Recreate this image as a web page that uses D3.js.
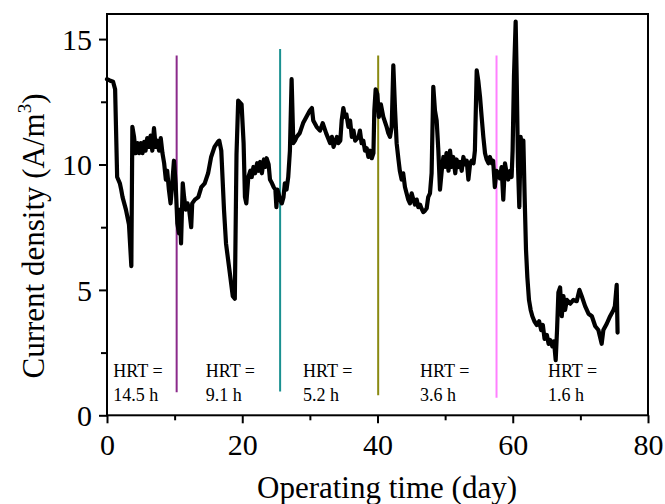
<!DOCTYPE html>
<html>
<head>
<meta charset="utf-8">
<script src="https://cdn.jsdelivr.net/npm/d3@7"></script>
<style>
  html, body { margin: 0; padding: 0; background: #fff; }
  svg { display: block; }
  text { font-family: "Liberation Serif", "Times New Roman", serif; fill: #000; }
</style>
</head>
<body>
<svg id="chart" width="665" height="504"></svg>
<script>
// ---- Data ----
const days = [0,0.4,0.9,1.2,1.5,1.9,2.1,2.3,2.8,3.25,3.6,3.75,4.0,4.25,4.5,4.75,5.0,5.25,5.5,5.7,5.95,6.2,6.45,6.7,6.95,7.2,7.45,7.7,7.95,8.2,8.45,8.7,8.9,9.15,9.4,9.65,9.9,10.15,10.4,10.65,10.8,10.95,11.2,11.4,11.65,11.9,12.15,12.45,12.6,13.0,13.5,13.95,14.45,14.95,15.4,15.9,16.4,16.6,16.9,17.3,17.6,18.1,18.6,18.9,19.15,19.4,19.9,20.2,20.4,20.6,20.9,21.2,21.4,21.65,21.9,22.2,22.4,22.65,22.9,23.2,23.4,23.6,23.9,24.1,24.4,24.65,24.9,25.05,25.2,25.6,25.85,26.1,26.3,26.55,26.8,27.05,27.3,27.55,27.8,28.05,28.5,29.0,29.5,30.0,30.3,30.5,31.0,31.5,31.9,32.4,33.0,33.25,33.5,34.0,34.2,34.5,34.7,34.95,35.2,35.4,35.7,35.95,36.2,36.45,36.7,37.2,37.4,37.65,37.9,38.15,38.4,38.65,38.9,39.15,39.4,39.53,39.73,39.98,40.2,40.5,40.86,41.35,41.6,41.85,42.1,42.34,42.6,42.83,43.1,43.3,43.57,43.8,44.06,44.3,44.55,44.8,45.05,45.3,45.54,45.8,46.03,46.3,46.5,46.77,47.0,47.27,47.5,47.76,48.0,48.25,48.5,48.75,49.0,49.24,49.5,49.74,49.99,50.2,50.5,50.73,50.97,51.2,51.5,51.7,51.96,52.2,52.45,52.7,52.95,53.2,53.44,53.7,53.94,54.2,54.4,54.67,54.9,55.16,55.4,55.65,55.9,56.14,56.4,56.63,56.9,57.1,57.35,57.6,57.86,58.1,58.35,58.6,58.85,59.1,59.33,59.6,59.83,59.98,60.18,60.43,60.58,60.78,60.97,61.17,61.4,61.57,61.76,61.96,62.16,62.4,62.65,62.9,63.2,63.56,63.9,64.2,64.45,64.7,65.05,65.3,65.55,65.85,66.1,66.35,66.55,66.75,67.0,67.25,67.5,67.74,68.0,68.5,68.97,69.46,69.86,70.2,70.7,71.2,71.7,72.2,72.66,73.15,73.4,73.9,74.4,74.9,75.1,75.37,75.5];
const density = [13.4,13.35,13.3,13.0,9.5,9.25,9.0,8.7,8.2,7.6,5.95,11.5,11.1,10.45,10.85,10.45,10.85,10.45,10.9,10.55,11.05,10.7,11.15,10.55,11.45,10.7,10.95,10.55,11.05,10.45,10.05,9.4,9.75,9.0,8.45,9.25,10.15,9.25,7.65,7.25,8.2,6.85,9.25,8.7,8.2,8.45,8.2,7.5,8.45,8.6,8.7,9.1,9.25,9.65,10.3,10.7,10.9,10.95,10.55,8.2,6.85,5.8,4.75,4.65,10.4,12.55,12.4,10.85,8.7,8.45,9.5,9.75,9.5,9.9,9.65,10.05,9.75,10.1,9.65,10.2,9.9,10.25,10.0,9.4,9.25,9.1,9.0,8.3,9.0,8.6,8.45,8.7,9.25,9.0,9.5,10.55,13.4,10.85,10.95,11.1,11.25,11.65,11.9,12.15,12.25,11.75,11.5,11.35,11.65,11.25,10.85,11.1,10.7,11.1,10.85,10.95,11.75,12.25,11.9,12.0,11.5,11.75,11.1,11.35,10.95,11.1,11.35,10.85,10.95,10.55,10.65,10.3,10.55,10.25,10.45,12.15,13.0,12.8,11.9,12.4,11.9,11.5,11.25,11.1,11.5,13.95,12.15,10.85,10.2,9.75,9.4,9.65,9.1,8.85,8.6,8.45,8.85,8.6,8.4,8.6,8.3,8.4,8.25,8.1,8.15,8.25,8.7,8.85,9.65,13.1,12.15,11.75,10.55,9.0,9.75,10.3,9.9,10.45,9.75,10.55,9.9,10.3,9.65,10.2,9.9,10.1,9.75,10.3,10.0,10.15,9.4,10.05,10.15,10.05,10.55,13.75,13.35,12.7,11.9,11.1,10.45,10.2,10.05,10.3,10.05,10.15,9.1,9.75,9.65,9.45,9.9,8.6,10.05,9.65,9.4,9.75,9.5,10.55,13.5,15.7,13.5,9.9,8.3,11.1,10.45,10.95,8.7,6.6,5.5,4.6,4.2,3.95,3.75,3.6,3.75,3.4,3.6,3.05,3.2,2.85,3.0,2.75,2.95,2.2,3.4,4.9,5.1,3.95,4.75,4.2,4.6,4.45,4.6,4.55,5.0,4.75,4.35,4.05,3.95,3.55,3.4,2.85,3.4,3.65,3.95,4.2,4.35,5.2,3.3];

const xTicks = [0, 20, 40, 60, 80];
const xMinorTicks = [10, 30, 50, 70];
const yTicks = [0, 5, 10, 15];
const yMinorTicks = [2.5, 7.5, 12.5];

const hrtDays = [10.3, 25.6, 40.1, 57.6];
const hrtTop = [14.35, 14.6, 14.35, 14.35];
const hrtBottom = [0.92, 0.95, 0.8, 0.7];
const hrtColors = ["#8b2a8b", "#1a9090", "#8a8a12", "#ff80ff"];

const labelDays = [0.93, 14.6, 29.0, 46.3, 65.2];
const labelLine1 = ["HRT =", "HRT =", "HRT =", "HRT =", "HRT ="];
const labelLine2 = ["14.5 h", "9.1 h", "5.2 h", "3.6 h", "1.6 h"];

const xTitle = "Operating time (day)";

// ---- Layout ----
const mLeft = 107, mRight = 648, mTop = 14, mBottom = 415.3;
const svg = d3.select("#chart");
const x = d3.scaleLinear().domain([0, 80]).range([mLeft, mRight]);
const y = d3.scaleLinear().domain([0, 16]).range([mBottom, mTop]);

// HRT separator lines
svg.append("g").selectAll("line").data(hrtDays).join("line")
  .attr("x1", d => x(d)).attr("x2", d => x(d))
  .attr("y1", (d, i) => y(hrtBottom[i])).attr("y2", (d, i) => y(hrtTop[i]))
  .attr("stroke", (d, i) => hrtColors[i]).attr("stroke-width", 2);

// data line
const pts = days.map((d, i) => [d, density[i]]);
svg.append("path").datum(pts)
  .attr("fill", "none").attr("stroke", "#000").attr("stroke-width", 4.2)
  .attr("stroke-linejoin", "round").attr("stroke-linecap", "round")
  .attr("d", d3.line().x(d => x(d[0])).y(d => y(d[1])));

// axes
const xAxis = svg.append("g").attr("transform", `translate(0,${mBottom})`)
  .call(d3.axisBottom(x).tickValues(xTicks).tickSize(8).tickPadding(10).tickFormat(d3.format("d")));
const xMinor = svg.append("g").attr("transform", `translate(0,${mBottom})`)
  .call(d3.axisBottom(x).tickValues(xMinorTicks).tickSize(5).tickFormat(""));
const yAxis = svg.append("g").attr("transform", `translate(${mLeft},0)`)
  .call(d3.axisLeft(y).tickValues(yTicks).tickSize(8).tickPadding(7).tickFormat(d3.format("d")));
const yMinor = svg.append("g").attr("transform", `translate(${mLeft},0)`)
  .call(d3.axisLeft(y).tickValues(yMinorTicks).tickSize(6).tickFormat(""));

[xAxis, xMinor, yAxis, yMinor].forEach(g => {
  g.select(".domain").remove();
  g.selectAll(".tick line").attr("stroke", "#000").attr("stroke-width", 2);
  g.selectAll("text").attr("font-family", "Liberation Serif").attr("font-size", 30).attr("fill", "#000");
});
yAxis.selectAll("text").attr("dy", "0.34em");

// frame
svg.append("rect").attr("x", mLeft).attr("y", mTop)
  .attr("width", mRight - mLeft).attr("height", mBottom - mTop)
  .attr("fill", "none").attr("stroke", "#000").attr("stroke-width", 2);

// HRT labels
const lg = svg.append("g").attr("font-size", 18);
lg.selectAll("text.l1").data(labelDays).join("text").attr("class", "l1")
  .attr("x", d => x(d)).attr("y", y(1.54)).text((d, i) => labelLine1[i]);
lg.selectAll("text.l2").data(labelDays).join("text").attr("class", "l2")
  .attr("x", d => x(d)).attr("y", y(0.57)).text((d, i) => labelLine2[i]);

// axis titles
svg.append("text").attr("x", 387).attr("y", 498).attr("text-anchor", "middle")
  .attr("font-size", 31).text(xTitle);

const yt = svg.append("text").attr("transform", "translate(44,236) rotate(-90)")
  .attr("text-anchor", "middle").attr("font-size", 31);
yt.append("tspan").text("Current density (A/m");
yt.append("tspan").attr("font-size", 19).attr("dy", -13).text("3");
yt.append("tspan").attr("dy", 13).text(")");
</script>
</body>
</html>
